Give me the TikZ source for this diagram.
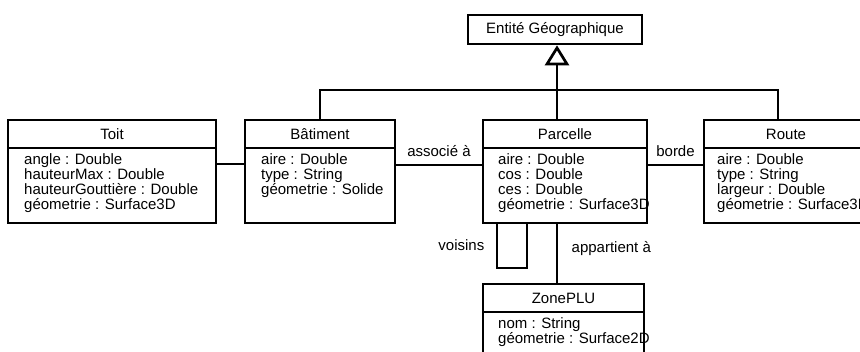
\documentclass[tikz,border=0pt]{standalone}
\usepackage{fontspec}
\setmainfont{Liberation Sans}
\usetikzlibrary{arrows.meta}

\begin{document}
\begin{tikzpicture}[x=1pt,y=-1pt,font=\fontsize{15}{15}\selectfont]
            \tikzset{
                entete/.style={draw, line width=2.7pt, minimum height=28, inner sep=0pt, outer sep=0pt},
                corps/.style={draw, line width=2.7pt, minimum height=75, anchor=north, outer sep=0pt},
                attr/.style={anchor=north west, align=left, inner sep=0pt},
                lien/.style={line width=2.7pt}
            }
            \useasboundingbox (0,0) rectangle (860,352);
            \draw node[entete, minimum width=174, minimum height=29] (entite) at (555,29.5) {Entité Géographique};
            \draw node[entete, minimum width=208] (toit) at (112,134) {Toit};
            \draw node[entete, minimum width=150] (batiment) at (320,134) {Bâtiment};
            \draw node[entete, minimum width=164] (parcelle) at (565,134) {Parcelle};
            \draw node[entete, minimum width=164] (route) at (786,134) {Route};
            \draw node[entete, minimum width=161] (zoneplu) at (563.5,298) {ZonePLU};
            \foreach \c/\w in {%
            toit/208, batiment/150, parcelle/164, route/164, zoneplu/161%
            }{
                \draw node[corps, minimum width=\w] (\c-att) at (\c.south) {};
            }
            \draw node[attr] (toit-txt) at ([xshift=16pt,yshift=-5pt]toit-att.north west)
                {angle : Double\\hauteurMax : Double\\hauteurGouttière : Double\\géometrie : Surface3D};
            \draw node[attr] (batiment-txt) at ([xshift=16pt,yshift=-5pt]batiment-att.north west)
                {aire : Double\\type : String\\géometrie : Solide};
            \draw node[attr] (parcelle-txt) at ([xshift=15pt,yshift=-5pt]parcelle-att.north west)
                {aire : Double\\cos : Double\\ces : Double\\géometrie : Surface3D};
            \draw node[attr] (route-txt) at ([xshift=13pt,yshift=-5pt]route-att.north west)
                {aire : Double\\type : String\\largeur : Double\\géometrie : Surface3D};
            \draw node[attr] (zoneplu-txt) at ([xshift=15pt,yshift=-5pt]zoneplu-att.north west)
                {nom : String\\géometrie : Surface2D};
            \coordinate (barre) at (557,90);
            \draw[lien, -{Triangle[open, length=20pt, width=24pt]}] (barre) -- ([yshift=-1.3pt]barre |- entite.south);
            \draw[lien] (batiment.north) |- (barre) -| ([xshift=-8pt]route.north);
            \draw[lien] ([xshift=-8pt]parcelle.north) -- (barre);
            \draw[lien] ([yshift=-16pt]toit-att.north east) -- ([yshift=-16pt]batiment-att.north west);
            \draw[lien] ([yshift=-17pt]batiment-att.north east) -- node[above=4pt] {associé à} ([yshift=-17pt]parcelle-att.north west);
            \draw[lien] ([yshift=-17pt]parcelle-att.north east) -- node[above=4pt] {borde} ([yshift=-17pt]route-att.north west);
            \draw[lien] ([xshift=14pt]parcelle-att.south west) -- node[left=8pt] {voisins} ++(0,45) -| ([xshift=44pt]parcelle-att.south west);
            \draw[lien] ([xshift=-8pt]parcelle-att.south) -- node[pos=0.42, right=10pt] {appartient à} ([xshift=-8pt]parcelle-att.south |- zoneplu.north);
        \end{tikzpicture}
\end{document}
